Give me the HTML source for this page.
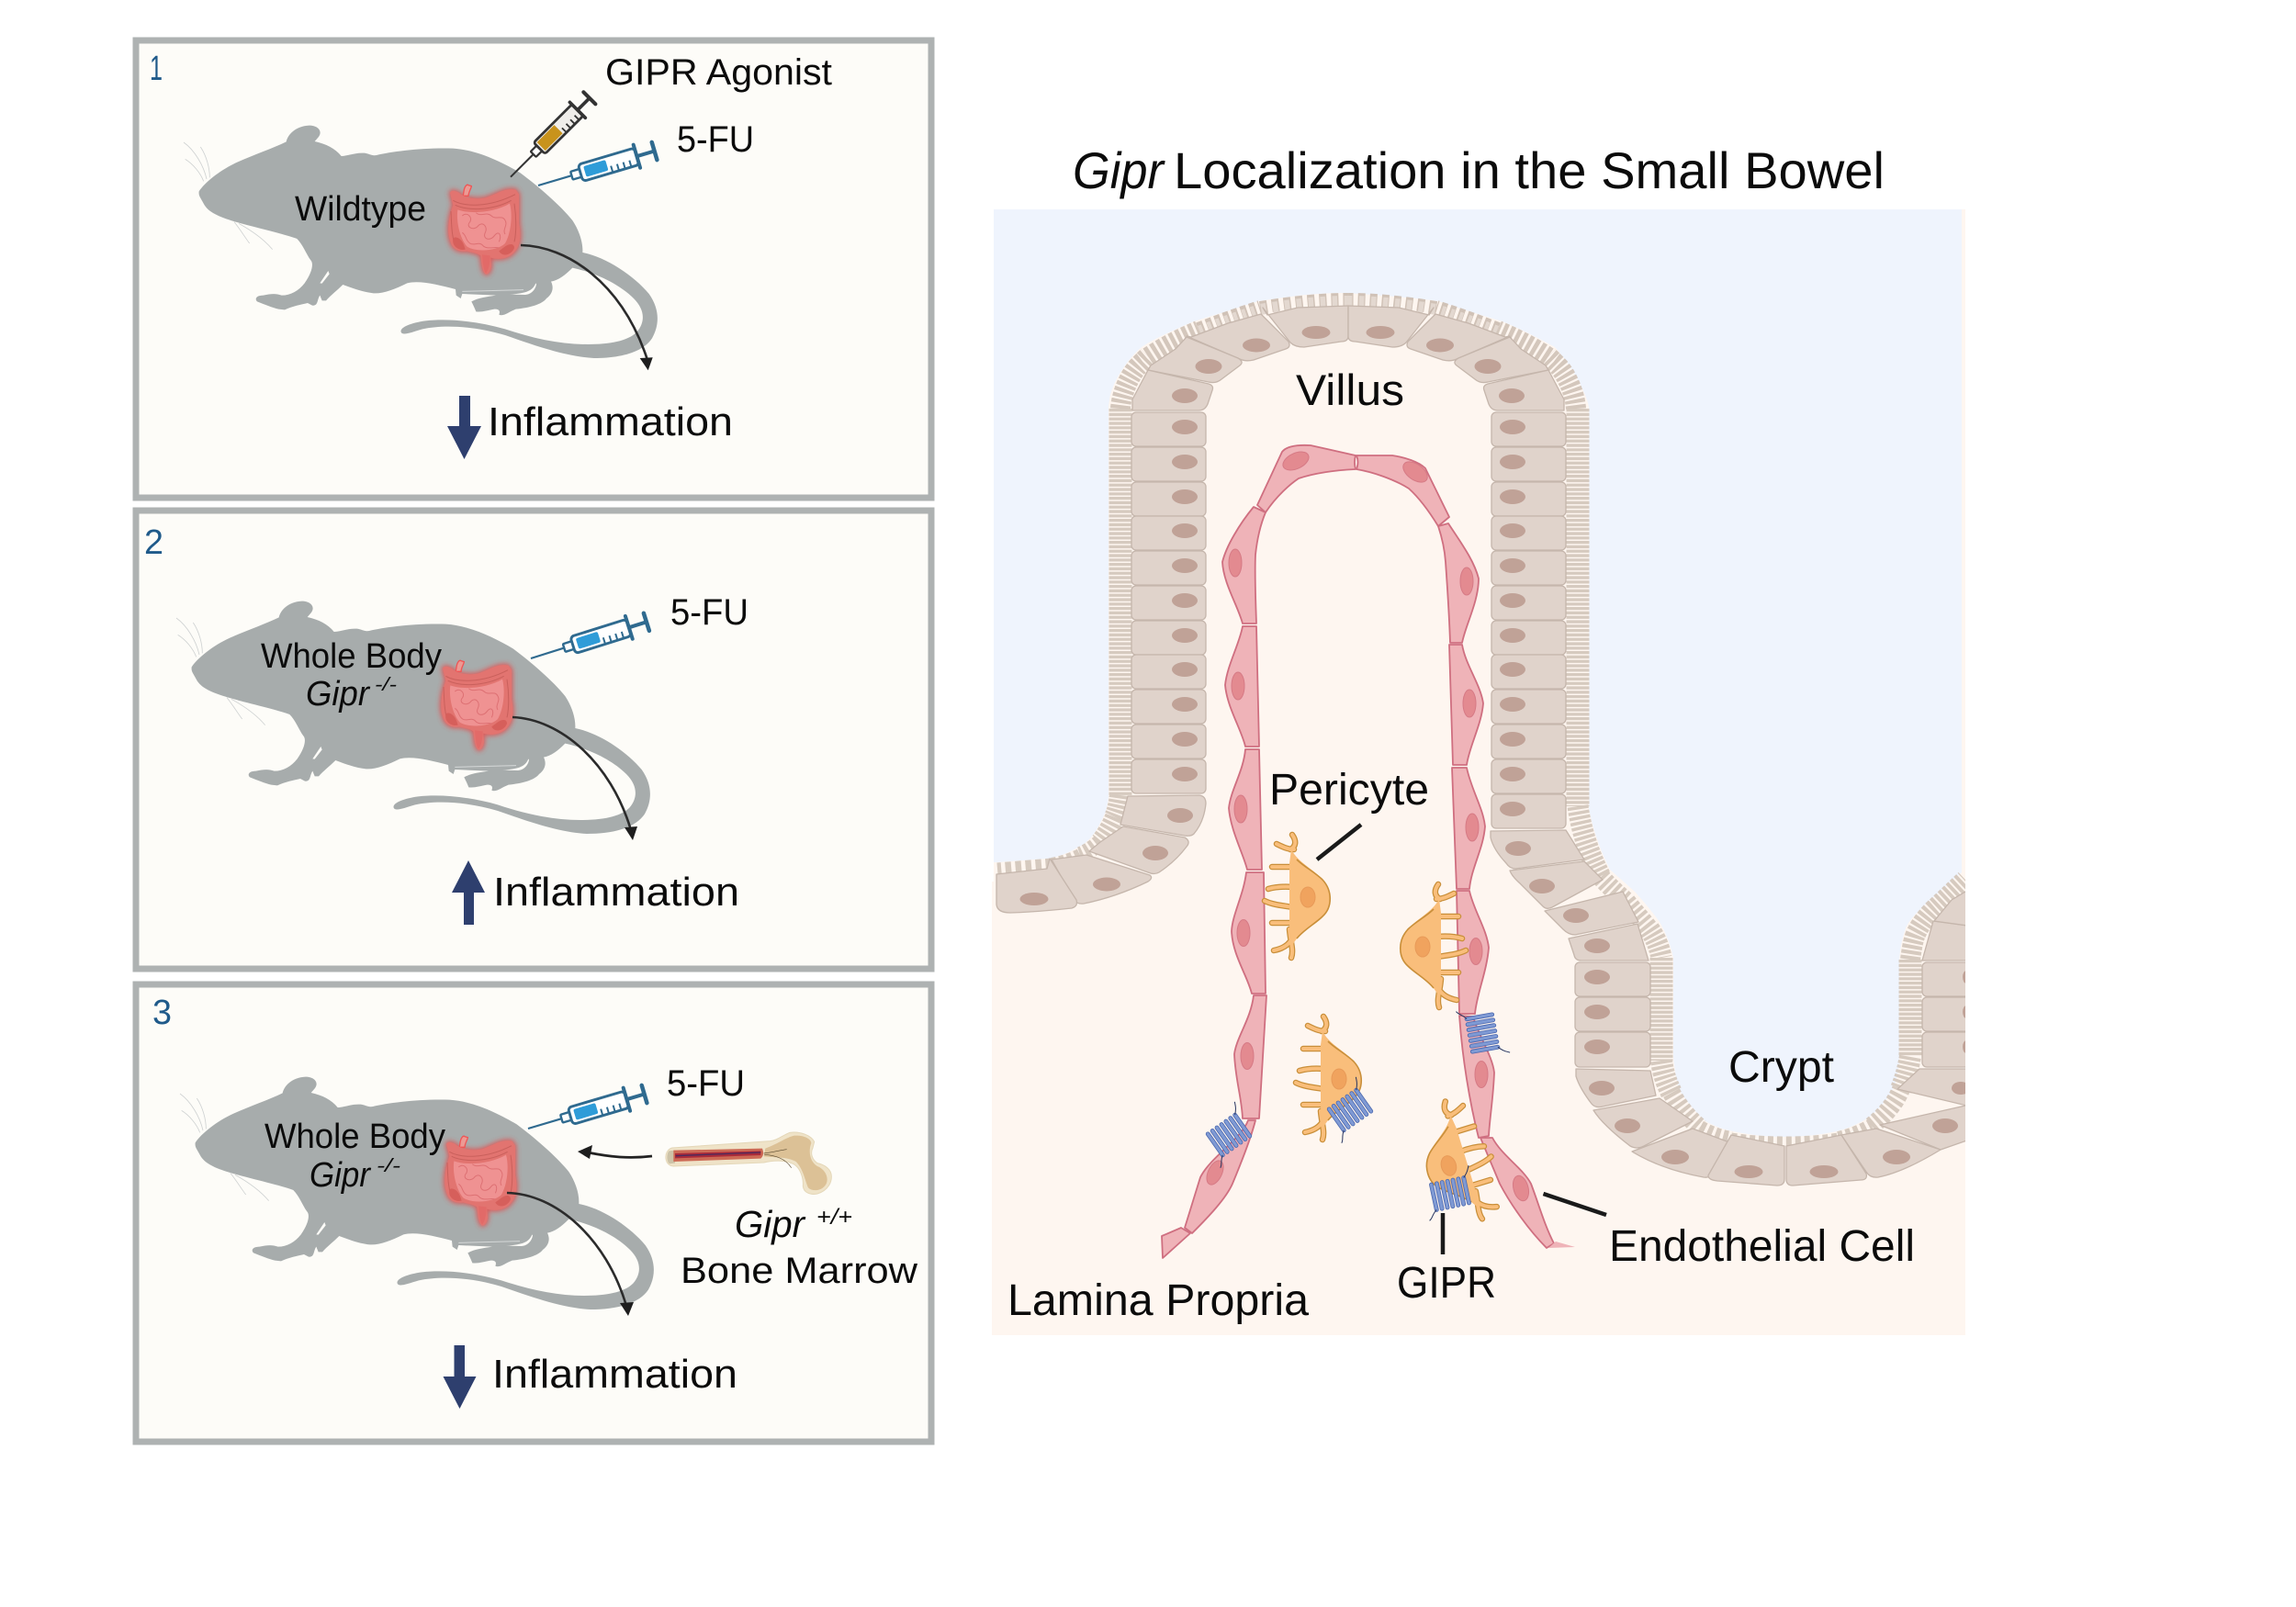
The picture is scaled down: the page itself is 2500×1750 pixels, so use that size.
<!DOCTYPE html>
<html><head><meta charset="utf-8"><title>Gipr diagram</title>
<style>
html,body{margin:0;padding:0;background:#fff}
svg{display:block}
text{font-family:"Liberation Sans",sans-serif;fill:#0b0b0b}
.c{fill:#e0d3cb;stroke:#c5b6ac;stroke-width:1.3;stroke-linejoin:round}
.n{fill:#c0a297}
.e{fill:#efb3b8;stroke:#cf6f80;stroke-width:1.8;stroke-linejoin:round}
.en{fill:#e38a90;stroke:#d67a85;stroke-width:1}
.num{fill:#1f5a8a}
</style></head><body>
<svg xmlns="http://www.w3.org/2000/svg" width="2500" height="1750" viewBox="0 0 2500 1750">
<defs>
<filter id="glow" x="-30%" y="-30%" width="160%" height="160%"><feGaussianBlur stdDeviation="8"/></filter>
<path id="gut" d="M45 60 C50 50,60 52,75 60 C90 75,130 85,165 75 C195 65,225 42,260 50 L270 65 L270 160 C278 200,275 230,258 250 C240 275,205 280,178 272 L180 300 C178 315,170 330,160 325 C150 315,148 290,145 265 C130 255,115 255,100 250 C70 255,50 240,45 215 C35 190,40 140,55 100 Z"/>
<g id="mouse">
<g transform="translate(200,120) scale(.33333)">
<path fill="#a7acac" d="M50 265 C70 235,120 195,175 170 C230 145,290 125,335 103 C340 80,365 52,410 50 C440 50,455 70,440 88 L428 102 C465 110,495 125,515 150 C535 150,560 138,590 140 C605 142,615 150,630 147 C680 135,780 122,880 125 C960 130,1040 170,1100 205 C1160 250,1230 310,1270 360 C1290 390,1305 430,1303 465 C1380 480,1470 540,1520 600 C1555 650,1555 700,1530 745 C1500 790,1430 810,1340 810 C1250 805,1150 770,1050 735 C950 705,850 700,780 715 C745 725,715 738,710 725 C705 710,740 695,790 688 C870 680,960 690,1050 715 C1140 745,1230 765,1320 765 C1390 765,1450 755,1480 725 C1510 690,1505 650,1470 615 C1420 565,1340 530,1270 515 C1245 540,1225 555,1200 560 C1210 580,1205 600,1185 615 C1170 635,1130 645,1085 650 C1060 660,1045 675,1030 668 C1035 655,1030 650,1015 650 C990 655,975 660,955 658 C950 645,945 635,940 625 C965 612,990 610,1020 605 L910 600 L905 615 L890 605 L888 585 C830 570,770 555,730 565 C690 585,650 600,620 598 C590 595,560 585,520 570 C500 590,480 605,465 622 L452 622 L445 605 C435 620,440 640,420 638 L405 630 C385 635,355 640,330 652 L310 650 C290 645,265 635,240 625 C230 615,240 605,260 605 C285 600,300 598,320 605 C350 605,375 590,395 565 C420 530,425 500,415 490 C400 470,390 440,370 420 C330 405,240 385,170 365 C120 350,80 335,65 305 C55 285,48 280,50 265 Z"/>
<path d="M472 525 L445 565 L452 566 L476 535 Z M1150 565 C1140 590,1120 598,1065 602 L1115 603 C1135 602,1150 585,1152 568 Z" fill="#fdfcf8"/>
<path d="M910 592 L1110 587" stroke="#d5d8d8" stroke-width="3" fill="none"/>
<path d="M55 120 C75 150,85 190,85 220 M0 105 C35 130,65 180,75 225 M5 160 C30 175,55 205,65 232 M165 365 C185 390,200 415,215 435 M180 370 C225 395,265 425,290 455" stroke="#cfd2d2" stroke-width="2.5" fill="none"/>
</g>
<g transform="translate(475,190) scale(.33333)">
<use href="#gut" fill="#ee3e3e" stroke="#ee3e3e" stroke-width="8" opacity=".75" filter="url(#glow)"/>
<path d="M105 35 C100 30,92 40,90 55 L88 70 L105 70 C106 55,115 45,115 38 Z" fill="#ec9a94" stroke="#ee5555" stroke-width="4"/>
<use href="#gut" fill="#e27470"/>
<path d="M70 115 C110 130,190 125,240 95 C250 130,245 190,225 225 C200 250,130 255,100 235 C75 205,65 150,70 115 Z" fill="#ef9292"/>
<path d="M85 135 C100 120,120 140,110 155 C95 170,120 185,135 170 C150 150,170 170,160 190 C150 210,175 220,190 200 C205 180,215 200,205 220 M130 125 C145 140,165 120,180 135 C195 150,215 130,225 150 C235 165,215 180,225 195 M85 190 C100 200,95 215,110 225 C125 235,140 215,155 235 C170 245,190 235,205 240" fill="none" stroke="#dd7073" stroke-width="3"/>
<path d="M55 85 C90 105,170 110,258 65 M62 100 C100 118,180 120,245 85 M48 120 C50 160,50 190,58 220 M255 95 C262 140,262 190,255 220" fill="none" stroke="#c9605c" stroke-width="3"/>
<path d="M55 210 C50 235,75 250,95 245 C90 225,80 205,60 205 Z M205 250 C215 270,245 265,255 240 C255 225,240 225,225 235 Z" fill="#d65f5b"/>
<path d="M150 262 C152 290,155 315,162 322 C170 315,176 290,176 265 Z" fill="#e26a68"/>
</g>
</g>
<g id="syr-b">
<line x1="0" y1="0" x2="38" y2="0" stroke="#2f6a8f" stroke-width="2.2"/>
<rect x="38" y="-4.500" width="10" height="9" rx="1" fill="#fff" stroke="#2f6a8f" stroke-width="2.400"/>
<rect x="48" y="-9.500" width="64" height="19" rx="4" fill="#fff" stroke="#2f6a8f" stroke-width="2.900"/>
<rect x="53" y="-6" width="25" height="12" rx="2" fill="#2f9cd8"/>
<path d="M82 2V9M89 2V9M96 2V9M103 2V9" stroke="#2f6a8f" stroke-width="2"/>
<path d="M112 -13V13" stroke="#2f6a8f" stroke-width="4" stroke-linecap="round"/>
<path d="M112 0H132" stroke="#2f6a8f" stroke-width="4"/>
<path d="M132 -10V10" stroke="#2f6a8f" stroke-width="4.500" stroke-linecap="round"/>
</g>
<g id="syr-a">
<line x1="0" y1="0" x2="38" y2="0" stroke="#333" stroke-width="2.2"/>
<rect x="38" y="-4.500" width="10" height="9" rx="1" fill="#fff" stroke="#333" stroke-width="2.400"/>
<rect x="48" y="-9.500" width="64" height="19" rx="3" fill="#efedea" stroke="#333" stroke-width="3"/>
<rect x="51" y="-7" width="29" height="14" fill="#c8931c"/>
<path d="M84 2V9M91 2V9M98 2V9M105 2V9" stroke="#333" stroke-width="2"/>
<path d="M112 -13V13" stroke="#333" stroke-width="4" stroke-linecap="round"/>
<path d="M112 0H132" stroke="#333" stroke-width="4"/>
<path d="M132 -10V10" stroke="#333" stroke-width="4.500" stroke-linecap="round"/>
</g>
<path id="bl" d="M1405 925 C1411 922,1412 916,1407 909 M1409 925 C1402 925,1396 922,1390 919 M1408 944 L1385 944 M1408 966 C1395 965,1388 966,1381 968 M1408 988 C1395 986,1385 985,1377 981 M1408 1005 H1385 M1404 1012 C1405 1025,1409 1035,1406 1043 M1405 1025 C1400 1032,1392 1034,1387 1035"/>
<g id="peri">
<use href="#bl" fill="none" stroke="#c98f3a" stroke-width="6.500" stroke-linecap="round"/>
<use href="#bl" fill="none" stroke="#f9be7b" stroke-width="4" stroke-linecap="round"/>
<path d="M1406 925 C1414 940,1430 946,1440 958 C1451 970,1451 988,1440 998 C1430 1008,1416 1014,1408 1028 C1404 1020,1404 1010,1404 1000 L1404 940 Z" fill="#f9be7b"/>
<path d="M1412 936 C1420 944,1432 950,1440 958 C1451 970,1451 988,1440 998 C1432 1006,1420 1012,1412 1022" fill="none" stroke="#c98f3a" stroke-width="1.600"/>
<ellipse cx="1424" cy="977" rx="8" ry="11" fill="#f0a35e" stroke="#e89a58" stroke-width="1"/>
</g>
<g id="gipr">
<path d="M-18 -14V14M-12 -14V14M-6 -14V14M0 -14V14M6 -14V14M12 -14V14M18 -14V14" fill="none" stroke="#4a66ad" stroke-width="4.800" stroke-linecap="round"/>
<path d="M-18 -14V14M-12 -14V14M-6 -14V14M0 -14V14M6 -14V14M12 -14V14M18 -14V14" fill="none" stroke="#7f9ad4" stroke-width="3.200" stroke-linecap="round"/>
<path d="M-18 14 C-24 18,-24 22,-28 24 M18 -14 C24 -20,24 -22,26 -26" fill="none" stroke="#26345f" stroke-width="1"/>
</g>
<g id="r"><rect class="c" x="0" y="0" width="81" height="37" rx="5"/><ellipse class="n" cx="58" cy="16" rx="14" ry="8"/></g>
<g id="rr"><rect class="c" x="0" y="0" width="81" height="37" rx="5"/><ellipse class="n" cx="23" cy="16" rx="14" ry="8"/></g>
<g id="topf" fill="none">
<path stroke="#d4c7bc" stroke-width="22" stroke-dasharray="3.900 2.100" d="M1220 445 C1221 430,1228 412,1238 400 C1242 396,1246 392,1250 388"/>
<path stroke="#d4c7bc" stroke-width="20" stroke-dasharray="4.800 2.700" d="M1250 388 C1268 376,1286 367,1305 359"/>
<path stroke="#d0c2b7" stroke-width="16" stroke-dasharray="6.500 3.500" d="M1305 359 C1328 350,1350 342,1372 335"/>
<path stroke="#d0c2b7" stroke-width="14" stroke-dasharray="8 5" d="M1372 335 C1403 330,1435 326,1468 326"/>
<path stroke="#e3d8d0" stroke-width="12" stroke-dasharray="4 6" stroke-dashoffset="-1.200" d="M1305 361 C1328 352,1350 344,1372 337"/>
<path stroke="#e3d8d0" stroke-width="12" stroke-dasharray="5.500 7.500" stroke-dashoffset="-1.200" d="M1372 337 C1403 332,1435 328,1468 328"/>
</g>
<g id="topc">
<path class="c" d="M1375 335 L1380 343 L1413 335 L1468 333 V366 Q1468 372,1460 372 L1420 378 Q1410 378,1405 373 Z"/>
<path class="c" d="M1292 366 L1297 367 L1337 352 L1373 342 L1403 372 Q1406 378,1400 380 L1365 392 Q1356 394,1350 391 Z"/>
<path class="c" d="M1250 403 L1253 398 L1280 380 L1292 367 L1348 390 Q1355 394,1350 398 L1330 413 Q1324 418,1316 416 Z"/>
<path class="c" d="M1233 447 L1233 435 L1250 403 L1316 418 Q1322 420,1320 425 L1315 440 Q1312 447,1305 447 Z"/>
<ellipse class="n" cx="1433" cy="362" rx="15.500" ry="7"/>
<ellipse class="n" cx="1368" cy="376" rx="15" ry="7.500"/>
<ellipse class="n" cx="1316" cy="399" rx="14.500" ry="8"/>
<ellipse class="n" cx="1290" cy="431" rx="14" ry="8"/>
</g>
<clipPath id="panelclip"><rect x="1082" y="228" width="1058" height="1226"/></clipPath>
</defs>

<!-- Left panels -->
<rect x="148" y="44" width="866" height="498" fill="#fdfcf8" stroke="#aeb2b2" stroke-width="7"/>
<rect x="148" y="556" width="866" height="499" fill="#fdfcf8" stroke="#aeb2b2" stroke-width="7"/>
<rect x="148" y="1072" width="866" height="498" fill="#fdfcf8" stroke="#aeb2b2" stroke-width="7"/>

<!-- Panel 1 -->
<use href="#mouse"/>
<use href="#syr-a" transform="translate(556,192.700) rotate(-45) scale(.92)"/>
<use href="#syr-b" transform="translate(586,202) rotate(-16.500)"/>
<path d="M567 267 C617 268,677 307,705 392" fill="none" stroke="#2b2b2b" stroke-width="2.600"/>
<path d="M705.700 403.300 L696.700 390 L710.700 389.300 Z" fill="#1e1e1e"/>
<path d="M500 431 H512 V464 H524 L505.500 500 L487 464 H500 Z" fill="#2e3f6e"/>
<text x="163" y="87" font-size="38" class="num" textLength="14" lengthAdjust="spacingAndGlyphs">1</text>
<text x="659" y="92" font-size="40" textLength="247" lengthAdjust="spacingAndGlyphs">GIPR Agonist</text>
<text x="737" y="165" font-size="40" textLength="84" lengthAdjust="spacingAndGlyphs">5-FU</text>
<text x="321" y="240" font-size="38" textLength="143" lengthAdjust="spacingAndGlyphs">Wildtype</text>
<text x="531" y="474" font-size="44" textLength="267" lengthAdjust="spacingAndGlyphs">Inflammation</text>

<!-- Panel 2 -->
<use href="#mouse" transform="translate(-8,518)"/>
<use href="#syr-b" transform="translate(578,717) rotate(-17.500)"/>
<path d="M558 781 C610 783,665 830,687 904" fill="none" stroke="#2b2b2b" stroke-width="2.600"/>
<path d="M689 915 L680 901 L694 900 Z" fill="#1e1e1e"/>
<path d="M505 1007 V972 H492 L510 937 L528 972 H516 V1007 Z" fill="#2e3f6e"/>
<text x="157" y="603" font-size="38" class="num" textLength="21" lengthAdjust="spacingAndGlyphs">2</text>
<text x="730" y="680" font-size="40" textLength="85" lengthAdjust="spacingAndGlyphs">5-FU</text>
<text x="284" y="727" font-size="38" textLength="197" lengthAdjust="spacingAndGlyphs">Whole Body</text>
<text x="333" y="768" font-size="38" font-style="italic" textLength="69" lengthAdjust="spacingAndGlyphs">Gipr</text>
<text x="408" y="752" font-size="20" font-style="italic" textLength="24" lengthAdjust="spacingAndGlyphs">-/-</text>
<text x="537" y="986" font-size="44" textLength="268" lengthAdjust="spacingAndGlyphs">Inflammation</text>

<!-- Panel 3 -->
<use href="#mouse" transform="translate(-4,1036)"/>
<use href="#syr-b" transform="translate(575,1229) rotate(-16.500)"/>
<path d="M552 1299 C605 1300,660 1348,682 1422" fill="none" stroke="#2b2b2b" stroke-width="2.600"/>
<path d="M684 1433 L675 1419 L690 1418 Z" fill="#1e1e1e"/>
<path d="M494.500 1465 H506 V1499 H518.500 L500.500 1534 L482.500 1499 H494.500 Z" fill="#2e3f6e"/>
<text x="166" y="1115" font-size="38" class="num" textLength="21" lengthAdjust="spacingAndGlyphs">3</text>
<text x="726" y="1193" font-size="40" textLength="85" lengthAdjust="spacingAndGlyphs">5-FU</text>
<text x="288" y="1250" font-size="38" textLength="197" lengthAdjust="spacingAndGlyphs">Whole Body</text>
<text x="337" y="1292" font-size="38" font-style="italic" textLength="66" lengthAdjust="spacingAndGlyphs">Gipr</text>
<text x="410" y="1276" font-size="20" font-style="italic" textLength="26" lengthAdjust="spacingAndGlyphs">-/-</text>
<text x="536" y="1511" font-size="44" textLength="267" lengthAdjust="spacingAndGlyphs">Inflammation</text>
<path d="M710 1259 C685 1262,665 1260,640 1255" fill="none" stroke="#222" stroke-width="2.800"/>
<path d="M629 1254 L645 1247 L642 1262 Z" fill="#1e1e1e"/>
<g transform="translate(715,1220) scale(.33333)">
<path d="M50 90 C35 95,28 110,30 125 C32 140,42 150,55 150 L350 138 C380 130,420 130,440 140 C470 150,480 190,478 215 C480 235,500 245,525 240 C560 230,575 200,570 175 C565 155,545 145,525 140 C510 130,500 110,510 90 L515 70 C505 50,470 35,435 40 C410 50,395 65,370 68 Z" fill="#efe3c8" stroke="#e4d7b8" stroke-width="3"/>
<path d="M355 92 C400 75,425 55,450 50 C480 48,505 60,505 75 C495 100,500 135,525 150 C550 160,562 185,555 205 C545 230,510 235,495 220 C485 200,480 160,455 135 C425 118,385 122,350 118 Z" fill="#dcc196"/>
<path d="M40 100 C32 110,32 135,42 142 L60 140 L60 98 Z" fill="#cdc3a8"/>
<path d="M55 98 L345 92 C350 105,350 115,340 125 L55 135 Z" fill="#cd6a55"/>
<path d="M60 108 L340 100 L340 114 L60 124 Z" fill="#a92b3a"/>
<path d="M62 116 L340 105" stroke="#4b2a5e" stroke-width="4" fill="none"/>
<path d="M350 108 C380 105,400 98,425 95 M352 112 C390 115,420 125,440 155" stroke="#5a4a30" stroke-width="2" fill="none"/>
</g>
<text x="800" y="1347" font-size="41" font-style="italic" textLength="76" lengthAdjust="spacingAndGlyphs">Gipr</text>
<text x="889" y="1333" font-size="24" font-style="italic" textLength="39" lengthAdjust="spacingAndGlyphs">+/+</text>
<text x="741" y="1397" font-size="40" textLength="258" lengthAdjust="spacingAndGlyphs">Bone Marrow</text>

<!-- Right panel -->
<text x="1168" y="205" font-size="56" font-style="italic" textLength="99" lengthAdjust="spacingAndGlyphs">Gipr</text>
<text x="1278" y="205" font-size="56" textLength="774" lengthAdjust="spacingAndGlyphs">Localization in the Small Bowel</text>

<rect x="1082" y="228" width="1058" height="800" fill="#fef6f0"/>
<rect x="1080" y="960" width="1060" height="494" fill="#fef6f0"/>
<path fill="#eff4fd" d="M1082 228 H2136 V950 L2100 982 C2088 992,2078 1003,2075 1011 C2070 1025,2068 1040,2068 1050 V1150 C2068 1162,2066 1172,2063 1182 C2056 1197,2046 1209,2033 1218 C2023 1224,2012 1229,2000 1232 C1981 1236,1962 1238,1943 1238 C1924 1238,1906 1236,1887 1232 C1876 1230,1866 1226,1857 1221 C1845 1210,1835 1198,1828 1186 C1825 1175,1823 1162,1822 1150 V1043 C1819 1029,1814 1016,1807 1004 C1799 993,1790 982,1780 971 C1771 963,1762 955,1753 947 C1742 925,1734 902,1730 880 V443 C1727 427,1711 398,1693 378 C1675 368,1655 358,1636 350 C1618 345,1590 336,1566 328 C1545 325,1510 322,1467 319 C1450 319,1430 320,1413 322 C1398 324,1384 326,1370 328 C1358 332,1345 336,1333 340 C1322 343,1310 347,1300 350 C1290 354,1282 358,1273 362 C1262 367,1252 372,1243 378 C1236 384,1230 391,1225 398 C1218 408,1213 417,1210 427 C1208 432,1208 437,1207 443 V868 C1206 875,1205 882,1202 888 C1198 897,1193 906,1187 913 C1182 918,1178 921,1173 923 C1166 927,1160 930,1153 932 C1148 934,1144 935,1140 935 L1086 939 L1082 939 Z"/>

<g clip-path="url(#panelclip)">
<!-- microvilli -->
<g fill="none" stroke="#d6cabf">
<path stroke-width="25" stroke-dasharray="3.300 1.500" d="M1220 445 V868"/>
<path stroke-width="25" stroke-dasharray="3.300 1.500" d="M1718 445 V878"/>
<path stroke-width="25" stroke-dasharray="3.300 1.500" d="M1809 1043 V1155"/>
<path stroke-width="25" stroke-dasharray="3.300 1.500" d="M2080 1045 V1150"/>
<!-- left foot -->
<path stroke-width="24" stroke-dasharray="3.500 1.800" d="M1220 866 C1219 875,1217 884,1214 890"/>
<path stroke-width="22" stroke-dasharray="3.800 2.200" d="M1214 890 C1210 900,1204 910,1198 917"/>
<path stroke-width="18" stroke-dasharray="4.600 2.900" d="M1198 917 C1190 924,1182 929,1176 931"/>
<path stroke-width="14" stroke-dasharray="5.500 3.500" d="M1176 931 C1166 936,1156 939,1145 941"/>
<path stroke-width="13" stroke-dasharray="6.500 4.500" d="M1145 941 L1086 946"/>
<!-- right shoulder -->
<path stroke-width="23" stroke-dasharray="3.500 2" d="M1718 878 C1722 905,1730 930,1743 955"/>
<path stroke-width="21" stroke-dasharray="4 2.500" d="M1743 955 C1752 965,1762 974,1771 982 C1780 993,1790 1004,1796 1012"/>
<path stroke-width="23" stroke-dasharray="3.500 2" d="M1796 1012 C1803 1022,1807 1032,1809 1043"/>
<!-- crypt bottom -->
<path stroke-width="24" stroke-dasharray="3.500 2" d="M1809 1155 C1811 1170,1815 1180,1820 1190"/>
<path stroke-width="20" stroke-dasharray="4.300 2.700" d="M1820 1190 C1828 1205,1839 1218,1851 1228"/>
<path stroke-width="16" stroke-dasharray="5.500 3.500" d="M1851 1228 C1862 1234,1873 1238,1885 1240"/>
<path stroke-width="13" stroke-dasharray="6 4" d="M1885 1240 C1904 1243,1924 1244,1943 1244 C1963 1244,1983 1243,2002 1240"/>
<path stroke-width="16" stroke-dasharray="5.500 3.500" d="M2002 1240 C2015 1237,2027 1232,2038 1226"/>
<path stroke-width="20" stroke-dasharray="4.300 2.700" d="M2038 1226 C2052 1215,2064 1201,2070 1186"/>
<path stroke-width="24" stroke-dasharray="3.500 2" d="M2070 1186 C2075 1174,2078 1162,2080 1150"/>
<!-- crypt rim -->
<path stroke-width="22" stroke-dasharray="4 2" d="M2080 1045 C2082 1030,2084 1020,2087 1015 C2093 1003,2103 992,2108 988 L2140 958"/>
</g>
<use href="#topf"/>
<use href="#topf" transform="translate(2936,0) scale(-1,1)"/>

<!-- villus cells -->
<use href="#topc"/>
<use href="#topc" transform="translate(2936,0) scale(-1,1)"/>

<!-- columns -->
<use href="#r" x="1232" y="449"/><use href="#r" x="1232" y="487"/><use href="#r" x="1232" y="525"/><use href="#r" x="1232" y="562"/><use href="#r" x="1232" y="600"/><use href="#r" x="1232" y="638"/><use href="#r" x="1232" y="676"/><use href="#r" x="1232" y="713"/><use href="#r" x="1232" y="751"/><use href="#r" x="1232" y="789"/><use href="#r" x="1232" y="827"/>
<use href="#rr" x="1624" y="449"/><use href="#rr" x="1624" y="487"/><use href="#rr" x="1624" y="525"/><use href="#rr" x="1624" y="562"/><use href="#rr" x="1624" y="600"/><use href="#rr" x="1624" y="638"/><use href="#rr" x="1624" y="676"/><use href="#rr" x="1624" y="713"/><use href="#rr" x="1624" y="751"/><use href="#rr" x="1624" y="789"/><use href="#rr" x="1624" y="827"/><use href="#rr" x="1624" y="865"/>

<!-- left foot cells -->
<path class="c" d="M1228 867 L1306 866 Q1313 867,1313 875 Q1311 895,1300 908 Q1297 911,1290 910 L1220 898 Z"/>
<path class="c" d="M1186 927 L1198 917 L1223 900 L1290 912 Q1297 916,1292 922 Q1280 938,1262 950 Q1257 953,1250 950 Z"/>
<path class="c" d="M1145 936 L1183 931 L1252 953 Q1256 956,1250 960 Q1215 977,1180 984 Q1172 985,1169 979 Z"/>
<path class="c" d="M1085 952 L1140 946 L1143 935 L1172 980 Q1174 987,1167 989 Q1130 993,1100 994 Q1086 994,1085 985 Z"/>
<ellipse class="n" cx="1285" cy="888" rx="14" ry="8"/>
<ellipse class="n" cx="1258" cy="929" rx="14" ry="8"/>
<ellipse class="n" cx="1205" cy="963" rx="15" ry="7.500"/>
<ellipse class="n" cx="1126" cy="979" rx="15.500" ry="7"/>

<!-- right slope -->
<path class="c" d="M1623 905 L1705 904 L1725 936 L1650 946 Q1644 946,1640 940 Q1626 925,1623 912 Z"/>
<path class="c" d="M1644 948 L1725 938 L1745 958 L1690 988 Q1684 991,1680 987 Q1668 975,1655 962 Q1646 954,1644 948 Z"/>
<path class="c" d="M1682 992 L1767 971 L1784 1004 L1715 1018 Q1708 1018,1702 1012 Z"/>
<path class="c" d="M1708 1022 L1783 1006 L1795 1046 L1722 1046 Q1715 1046,1714 1040 Z"/>
<ellipse class="n" cx="1653" cy="924" rx="14" ry="8"/>
<ellipse class="n" cx="1679" cy="965" rx="14" ry="8"/>
<ellipse class="n" cx="1716" cy="997" rx="14" ry="8"/>
<ellipse class="n" cx="1739" cy="1030" rx="14" ry="8"/>
<!-- crypt left -->
<rect class="c" x="1715" y="1048" width="82" height="37" rx="5"/><ellipse class="n" cx="1739" cy="1064" rx="14" ry="8"/>
<rect class="c" x="1715" y="1086" width="82" height="37" rx="5"/><ellipse class="n" cx="1739" cy="1102" rx="14" ry="8"/>
<rect class="c" x="1715" y="1124" width="82" height="38" rx="5"/><ellipse class="n" cx="1739" cy="1140" rx="14" ry="8"/>
<path class="c" d="M1716 1164 L1797 1166 L1803 1193 L1745 1205 Q1737 1207,1733 1202 Q1720 1185,1716 1172 Z"/>
<path class="c" d="M1735 1209 L1807 1196 L1843 1221 L1790 1248 Q1782 1252,1775 1248 Q1745 1225,1735 1209 Z"/>
<path class="c" d="M1777 1254 L1843 1229 L1883 1244 L1866 1278 Q1862 1283,1855 1282 C1828 1277,1800 1268,1777 1254 Z"/>
<path class="c" d="M1885 1236 L1943 1248 L1943 1284 Q1943 1291,1935 1291 L1870 1286 Q1860 1285,1860 1280 Z"/>
<path class="c" d="M1945 1248 L2005 1236 L2032 1278 Q2034 1285,2026 1285 L1952 1291 Q1945 1291,1945 1284 Z"/>
<path class="c" d="M2005 1236 L2043 1229 L2113 1252 C2090 1266,2065 1278,2045 1282 Q2036 1283,2032 1276 Z"/>
<path class="c" d="M2047 1225 L2140 1204 L2150 1206 V1239 L2113 1252 Z"/>
<ellipse class="n" cx="1744" cy="1185" rx="14" ry="8"/>
<ellipse class="n" cx="1772" cy="1226" rx="14" ry="8"/>
<ellipse class="n" cx="1824" cy="1260" rx="15" ry="8"/>
<ellipse class="n" cx="1904" cy="1276" rx="15.500" ry="7"/>
<ellipse class="n" cx="1986" cy="1276" rx="15.500" ry="7"/>
<ellipse class="n" cx="2065" cy="1260" rx="15" ry="8"/>
<ellipse class="n" cx="2118" cy="1226" rx="14" ry="8"/>
<!-- crypt right -->
<rect class="c" x="2093" y="1048" width="60" height="37" rx="5"/><ellipse class="n" cx="2141" cy="1064" rx="4" ry="7"/>
<rect class="c" x="2093" y="1086" width="60" height="37" rx="5"/><ellipse class="n" cx="2141" cy="1102" rx="4" ry="7"/>
<rect class="c" x="2093" y="1124" width="60" height="38" rx="5"/><ellipse class="n" cx="2141" cy="1140" rx="4" ry="7"/>
<path class="c" d="M2090 1164 L2150 1164 L2150 1206 L2066 1186 Z"/>
<ellipse class="n" cx="2135" cy="1185" rx="10" ry="7"/>
<path class="c" d="M2093 1046 L2150 1046 L2150 1009 L2105 1003 Z"/>
<path class="c" d="M2106 1003 L2150 1009 L2150 965 L2125 980 Z"/>

<!-- endothelium -->
<path class="e" d="M1476 496 L1445 489 L1427 485 C1410 484,1400 487,1396 492 L1369 550 L1378 558 C1390 540,1405 527,1414 521 C1432 515,1455 512,1476 511 Q1474 503,1476 496 Z"/>
<path class="e" d="M1477 496 L1516 496 C1530 498,1545 503,1552 510 L1578 563 L1566 573 C1555 555,1545 542,1534 532 C1518 522,1495 514,1477 511 Q1480 503,1477 496 Z"/>
<path class="e" d="M1378 558 L1365 552 C1350 570,1335 595,1331 612 C1332 635,1348 660,1353 679 L1368 679 C1367 650,1366 625,1367 604 C1369 585,1373 570,1378 558 Z"/>
<path class="e" d="M1353 682 C1350 700,1336 725,1334 746 C1336 770,1352 795,1356 813 L1371 813 L1368 682 Z"/>
<path class="e" d="M1356 816 C1354 840,1340 860,1338 880 C1340 905,1354 930,1358 947 L1374 947 L1371 816 Z"/>
<path class="e" d="M1357 950 C1354 975,1342 995,1341 1014 C1342 1040,1358 1062,1363 1082 L1378 1082 L1376 950 Z"/>
<path class="e" d="M1365 1084 C1362 1110,1346 1130,1344 1148 C1345 1175,1352 1195,1353 1218 L1371 1218 L1379 1084 Z"/>
<path class="e" d="M1367 1220 L1359 1220 C1352 1240,1318 1260,1307 1282 L1290 1337 L1298 1343 C1316 1325,1335 1305,1342 1289 C1352 1265,1362 1240,1367 1220 Z"/>
<path class="e" d="M1296 1343 L1286 1337 L1265 1346 L1266 1370 Z"/>
<path class="e" d="M1566 573 L1577 570 C1590 590,1605 610,1610 630 C1610 655,1596 680,1592 700 L1579 700 C1578 670,1576 640,1574 612 C1573 598,1570 585,1566 573 Z"/>
<path class="e" d="M1578 702 L1592 702 C1596 725,1612 745,1615 766 C1613 790,1600 812,1597 833 L1582 833 Z"/>
<path class="e" d="M1581 836 L1597 836 C1602 860,1615 880,1617 900 C1615 925,1602 945,1600 968 L1586 968 Z"/>
<path class="e" d="M1586 970 L1600 970 C1604 990,1619 1012,1621 1032 C1619 1058,1608 1082,1606 1104 L1589 1104 Z"/>
<path class="e" d="M1589 1106 L1604 1107 C1610 1128,1625 1150,1627 1168 C1626 1195,1622 1218,1621 1237 L1610 1239 C1600 1200,1592 1150,1589 1106 Z"/>
<path class="e" d="M1612 1239 L1625 1239 C1635 1258,1658 1272,1667 1289 C1675 1310,1682 1335,1692 1354 L1684 1359 C1665 1340,1645 1312,1633 1289 Z"/>
<path d="M1686 1359 L1694 1352 L1715 1358 Z" fill="#efb3b8"/>
<ellipse class="en" transform="rotate(-25 1411 502)" cx="1411" cy="502" rx="15" ry="8.500"/>
<ellipse class="en" transform="rotate(35 1541 514)" cx="1541" cy="514" rx="15" ry="8.500"/>
<ellipse class="en" cx="1345" cy="613" rx="7" ry="15"/>
<ellipse class="en" cx="1348" cy="747" rx="7" ry="15"/>
<ellipse class="en" cx="1351" cy="881" rx="7" ry="15"/>
<ellipse class="en" cx="1354" cy="1016" rx="7" ry="14.500"/>
<ellipse class="en" cx="1358" cy="1150" rx="7" ry="14.500"/>
<ellipse class="en" transform="rotate(25 1323 1277)" cx="1323" cy="1277" rx="7.500" ry="14"/>
<ellipse class="en" cx="1597" cy="633" rx="7" ry="15"/>
<ellipse class="en" cx="1600" cy="766" rx="7" ry="15"/>
<ellipse class="en" cx="1603" cy="901" rx="7" ry="15"/>
<ellipse class="en" cx="1607" cy="1036" rx="7" ry="14.500"/>
<ellipse class="en" cx="1613" cy="1170" rx="7" ry="14.500"/>
<ellipse class="en" transform="rotate(-15 1656 1294)" cx="1656" cy="1294" rx="8" ry="14"/>

<!-- pericytes -->
<use href="#peri"/>
<use href="#peri" transform="translate(34,198)"/>
<use href="#peri" transform="translate(1568,1029) scale(-1,1) translate(-1405,-975)"/>
<use href="#peri" transform="translate(1595,1262) rotate(-17) scale(-1,1) translate(-1405,-975)"/>

<!-- GIPR -->
<use href="#gipr" transform="translate(1338,1236) rotate(-35)"/>
<use href="#gipr" transform="translate(1614,1125) rotate(80)"/>
<use href="#gipr" transform="translate(1470,1209) rotate(-35)"/>
<use href="#gipr" transform="translate(1579,1300) rotate(-12)"/>
</g>

<!-- leader lines -->
<path d="M1482 898 L1434 936 M1680.500 1300 L1749 1323 M1571 1321 V1366" stroke="#1a1a1a" stroke-width="4.500" fill="none"/>

<!-- labels -->
<text x="1411" y="441" font-size="47" textLength="118" lengthAdjust="spacingAndGlyphs">Villus</text>
<text x="1382" y="876" font-size="48" textLength="174" lengthAdjust="spacingAndGlyphs">Pericyte</text>
<text x="1882" y="1178" font-size="48" textLength="115" lengthAdjust="spacingAndGlyphs">Crypt</text>
<text x="1752" y="1373" font-size="48" textLength="333" lengthAdjust="spacingAndGlyphs">Endothelial Cell</text>
<text x="1521" y="1413" font-size="48" textLength="108" lengthAdjust="spacingAndGlyphs">GIPR</text>
<text x="1097" y="1432" font-size="48" textLength="328" lengthAdjust="spacingAndGlyphs">Lamina Propria</text>
</svg>
</body></html>
